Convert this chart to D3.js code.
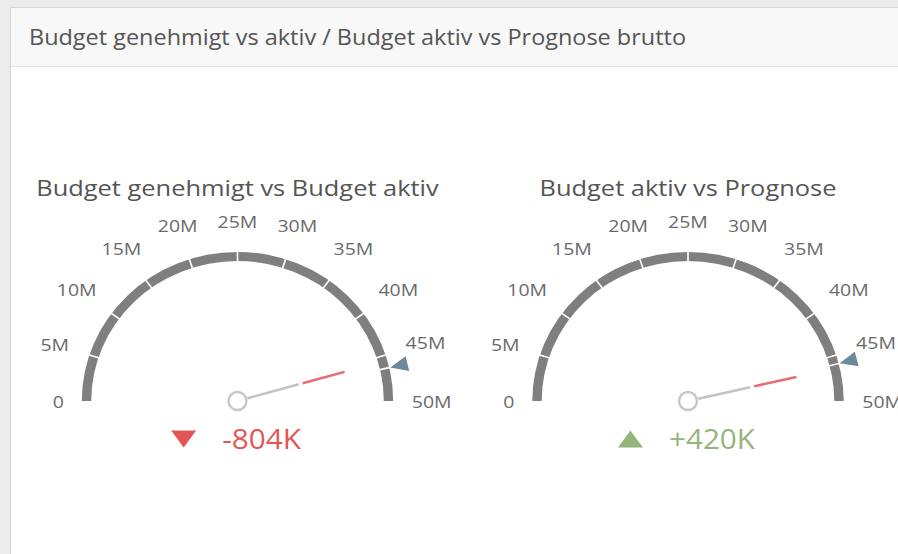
<!DOCTYPE html>
<html>
<head>
<meta charset="utf-8">
<script src="https://cdn.jsdelivr.net/npm/d3@7/dist/d3.min.js"></script>
<style>
    body { margin: 0; background: #ececec; }
    text { font-family: "Open Sans", "Noto Sans", sans-serif; }
</style>
</head>
<body>
<svg id="chart"></svg>
<script>
// ---- data ----
var panelTitle = "Budget genehmigt vs aktiv / Budget aktiv vs Prognose brutto";
var gaugeTitles = ["Budget genehmigt vs Budget aktiv", "Budget aktiv vs Prognose"];
var actualValues = [45.6e6, 46.37e6];
var targetValues = [46.404e6, 45.95e6];
var deltaLabels = ["-804K", "+420K"];
var tickValues = [0, 5e6, 10e6, 15e6, 20e6, 25e6, 30e6, 35e6, 40e6, 45e6, 50e6];
var tickLabels = ["0", "5M", "10M", "15M", "20M", "25M", "30M", "35M", "40M", "45M", "50M"];

var width = 898, height = 554;
var svg = d3.select("#chart").attr("width", width).attr("height", height);

// the source font runs wider than Open Sans, so stretch text a little
function widen(sel, f) {
    sel.each(function () {
        var w = this.getComputedTextLength();
        d3.select(this).attr("textLength", w * f).attr("lengthAdjust", "spacingAndGlyphs");
    });
}

// panel
svg.append("rect").attr("x", 10.5).attr("y", 7.5).attr("width", 900).attr("height", 560)
    .attr("fill", "#fff").attr("stroke", "#d6d6d6");
svg.append("rect").attr("x", 11).attr("y", 8).attr("width", 900).attr("height", 58)
    .attr("fill", "#f8f8f8");
svg.append("line").attr("x1", 11).attr("x2", 900).attr("y1", 66.5).attr("y2", 66.5)
    .attr("stroke", "#e3e3e3");
svg.append("text").attr("x", 29).attr("y", 45)
    .attr("font-size", 22.5).attr("fill", "#555").text(panelTitle)
    .attr("textLength", 657).attr("lengthAdjust", "spacingAndGlyphs");

var centers = [237.5, 688];
var cy = 401, R = 149, thick = 9, sx = 1.045;

var scale = d3.scaleLinear().domain([0, 50e6]).range([-Math.PI / 2, Math.PI / 2]);

function pt(v, r) {
    var a = scale(v);
    return [Math.sin(a) * r, -Math.cos(a) * r];
}

gaugeTitles.forEach(function (title, i) {
    var cx = centers[i];
    var g = svg.append("g");

    g.append("text").attr("x", cx).attr("y", 196).attr("text-anchor", "middle")
        .attr("font-size", 21).attr("fill", "#555").text(title)
        .call(widen, 1.21);

    // scale is a bit wider than tall in the picture
    var arcG = g.append("g").attr("transform", "translate(" + cx + "," + cy + ") scale(" + sx + ",1)");

    arcG.append("path")
        .attr("d", d3.arc()({ innerRadius: R - thick, outerRadius: R, startAngle: scale(0), endAngle: scale(50e6) }))
        .attr("fill", "#7f7f7f");

    // white gaps at inner ticks and at the target
    var gaps = tickValues.slice(1, -1).concat([targetValues[i]]);
    arcG.selectAll(".gap").data(gaps).enter().append("line")
        .attr("class", "gap")
        .attr("x1", function (d) { return pt(d, R - thick - 1)[0]; })
        .attr("y1", function (d) { return pt(d, R - thick - 1)[1]; })
        .attr("x2", function (d) { return pt(d, R + 1)[0]; })
        .attr("y2", function (d) { return pt(d, R + 1)[1]; })
        .attr("stroke", "#fff").attr("stroke-width", 1.6);

    // target marker
    var t = targetValues[i], a = scale(t), dA = 0.045;
    var p0 = pt(t, R + 1),
        p1 = [Math.sin(a - dA) * (R + 18), -Math.cos(a - dA) * (R + 18)],
        p2 = [Math.sin(a + dA) * (R + 18), -Math.cos(a + dA) * (R + 18)];
    arcG.append("path").attr("d", "M" + p0 + "L" + p1 + "L" + p2 + "Z").attr("fill", "#6e889c");

    // needle
    var v = actualValues[i];
    var n0 = pt(v, 10), n1 = pt(v, 0.41 * R), n2 = pt(v, 0.435 * R), n3 = pt(v, 0.715 * R);
    arcG.append("line").attr("x1", n0[0]).attr("y1", n0[1]).attr("x2", n1[0]).attr("y2", n1[1])
        .attr("stroke", "#c3c3c3").attr("stroke-width", 2.5);
    arcG.append("line").attr("x1", n2[0]).attr("y1", n2[1]).attr("x2", n3[0]).attr("y2", n3[1])
        .attr("stroke", "#e46c72").attr("stroke-width", 2.5);

    g.append("circle").attr("cx", cx).attr("cy", cy).attr("r", 9)
        .attr("fill", "#fff").attr("stroke", "#c8c8c8").attr("stroke-width", 2.5);

    // tick labels, placed just outside the scale
    var labels = g.selectAll(".tick").data(tickValues).enter().append("text")
        .attr("class", "tick")
        .attr("font-size", 16.5).attr("fill", "#6a6a6a")
        .attr("text-anchor", "middle")
        .text(function (d, k) { return tickLabels[k]; })
        .call(widen, 1.18);
    labels.each(function (d) {
        var bb = this.getBBox();
        var ang = scale(d), s = Math.sin(ang), c = Math.cos(ang);
        var w = this.getComputedTextLength();
        var rr = R + 17 + (w / 2) * Math.abs(s) + (bb.height * 0.6) * Math.abs(c);
        var x = cx + s * rr * sx, y = cy - c * rr;
        d3.select(this).attr("x", x).attr("y", y + bb.height * 0.3);
    });

    // delta indicator: triangle + value, centred under the gauge
    var up = deltaLabels[i].charAt(0) === "+";
    var col = up ? "#93b57a" : "#e35555";
    var ty = 439;
    var dt = g.append("text").attr("y", 449)
        .attr("font-size", 27).attr("fill", col).text(deltaLabels[i])
        .call(widen, 1.1);
    var tw = +dt.attr("textLength");
    var start = cx - 1.5 - (25 + 26 + tw) / 2;
    dt.attr("x", start + 51);
    var tx = start + 12.5;
    g.append("path")
        .attr("d", up
            ? "M" + (tx - 12.5) + "," + (ty + 8.5) + "L" + (tx + 12.5) + "," + (ty + 8.5) + "L" + tx + "," + (ty - 8.5) + "Z"
            : "M" + (tx - 12.5) + "," + (ty - 8.5) + "L" + (tx + 12.5) + "," + (ty - 8.5) + "L" + tx + "," + (ty + 8.5) + "Z")
        .attr("fill", col);
});
</script>
</body>
</html>
